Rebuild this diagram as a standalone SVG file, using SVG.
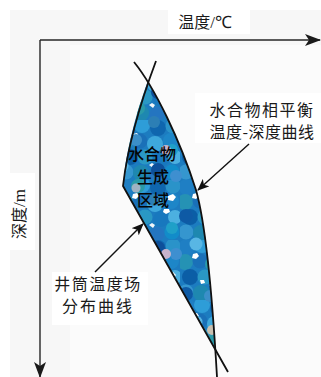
<svg xmlns="http://www.w3.org/2000/svg" width="321" height="377" viewBox="0 0 321 377">
  <style>
    .axis { stroke: #262626; stroke-width: 1.4; fill: none; }
    .curve { stroke: #111; stroke-width: 1.8; fill: none; stroke-linejoin: round; }
    .lead { stroke: #111; stroke-width: 1.4; fill: none; }
    .cn { font-family: "Noto Sans CJK SC", "Noto Sans", sans-serif; fill: #1a1a1a; }
    .lbl { font-size: 16px; text-anchor: middle; }
    .zone { font-size: 16px; text-anchor: middle; fill: #050505; font-weight: 500; }
  </style>
  <defs>
    <marker id="axhead" viewBox="0 0 16 12" refX="15" refY="6" markerWidth="16" markerHeight="12" markerUnits="userSpaceOnUse" orient="auto">
      <path d="M0,0 L16,6 L0,12 L4,6 Z" fill="#1a1a1a"/>
    </marker>
    <marker id="ptr" viewBox="0 0 12 10" refX="11" refY="5" markerWidth="12" markerHeight="10" markerUnits="userSpaceOnUse" orient="auto">
      <path d="M0,0 L12,5 L0,10 L3,5 Z" fill="#111"/>
    </marker>
    <!-- mosaic of blue cells -->
    <pattern id="cellsA" width="60" height="60" patternUnits="userSpaceOnUse">
      <rect width="60" height="60" fill="#1c7cc0"/>
      <circle cx="7" cy="7" r="8" fill="#1f7fc4"/>
      <circle cx="22" cy="5" r="8" fill="#2e9dd8"/>
      <circle cx="38" cy="8" r="8" fill="#0f66ae"/>
      <circle cx="53" cy="6" r="7.5" fill="#2a93c9"/>
      <circle cx="5" cy="22" r="8" fill="#2592b4"/>
      <circle cx="20" cy="21" r="7.5" fill="#1a70b8"/>
      <circle cx="35" cy="24" r="8" fill="#3ea8dc"/>
      <circle cx="51" cy="21" r="8" fill="#1d86c8"/>
      <circle cx="10" cy="37" r="8" fill="#0b5ea6"/>
      <circle cx="25" cy="37" r="7.5" fill="#2a98c4"/>
      <circle cx="41" cy="39" r="8" fill="#1878be"/>
      <circle cx="55" cy="37" r="7" fill="#4cb0e0"/>
      <circle cx="6" cy="52" r="7.5" fill="#3596cf"/>
      <circle cx="21" cy="53" r="8" fill="#1e88b0"/>
      <circle cx="37" cy="54" r="7.5" fill="#2475c0"/>
      <circle cx="52" cy="52" r="7.5" fill="#128cc9"/>
      <path d="M13,14 l4,-1 l2,3 l-3,3 l-4,-1 Z" fill="#ffffff"/>
      <path d="M44,29 l5,0 l1,3 l-4,2 l-3,-2 Z" fill="#ffffff"/>
      <path d="M29,45 l3,-2 l3,2 l-2,3 Z" fill="#f2f6fa"/>
    </pattern>
    <pattern id="cellsB" width="74" height="78" patternUnits="userSpaceOnUse">
      <circle cx="10" cy="14" r="7" fill="#0d4f9a"/>
      <circle cx="48" cy="10" r="6.5" fill="#58b6e4"/>
      <circle cx="64" cy="30" r="7" fill="#2a9aa8"/>
      <circle cx="38" cy="60" r="7" fill="#0e5aa5"/>
      <circle cx="62" cy="62" r="6" fill="#3b8fc9"/>
      <circle cx="28" cy="20" r="6" fill="#3e8fd0"/>
      <circle cx="6" cy="44" r="6" fill="#2c7fb5"/>
      <circle cx="24" cy="72" r="6" fill="#1fa0c8"/>
      <path d="M20,40 l5,-2 l3,3 l-3,4 l-5,-1 Z" fill="#ffffff"/>
      <path d="M52,46 l4,0 l1,3 l-4,1 Z" fill="#ffffff"/>
    </pattern>
    <pattern id="cellsC" width="96" height="104" patternUnits="userSpaceOnUse">
      <circle cx="20" cy="18" r="5" fill="#c9c0b0"/>
      <circle cx="70" cy="46" r="5" fill="#c7b3cc"/>
      <circle cx="40" cy="84" r="4.5" fill="#9fb3c3"/>
    </pattern>
    <clipPath id="zoneClip">
      <path d="M147.6,81.6 Q126.5,140 123,186 L215.2,347.9 C210.6,275.5 204.9,221 196,190 C183.4,150.5 165.1,109.8 147.6,81.6 Z"/>
    </clipPath>
  </defs>

  <!-- page background -->
  <rect width="321" height="377" fill="#ffffff"/>
  <rect x="10" y="10" width="311" height="367" fill="#f7f7f7"/>
  <rect x="70" y="45" width="251" height="332" fill="#fbfbfb"/>
  <rect x="168" y="0" width="82" height="34" fill="#ffffff"/>
  <rect x="10" y="173" width="25" height="77" fill="#ffffff"/>
  <rect x="195" y="93" width="126" height="50" fill="#ffffff"/>
  <rect x="52" y="272" width="96" height="53" fill="#ffffff"/>

  <!-- axes -->
  <g id="axes">
    <path class="axis" d="M40,40 L320,40" marker-end="url(#axhead)"/>
    <path class="axis" d="M40,40 L40,377" marker-end="url(#axhead)"/>
    <text class="cn" x="205" y="28" font-size="16" text-anchor="middle">温度<tspan font-family="'Liberation Serif', serif" font-size="17">/℃</tspan></text>
    <text class="cn" transform="translate(25,214) rotate(-90)" font-size="16" text-anchor="middle">深度<tspan font-family="'Liberation Serif', serif" font-size="17">/m</tspan></text>
  </g>

  <!-- hydrate formation zone -->
  <g id="zone">
    <g clip-path="url(#zoneClip)">
      <rect x="110" y="70" width="120" height="290" fill="url(#cellsA)"/>
      <rect x="110" y="70" width="120" height="290" fill="url(#cellsB)"/>
      <rect x="110" y="70" width="120" height="290" fill="url(#cellsC)"/>
    </g>
    <text class="cn zone" x="152" y="160">水合物</text>
    <text class="cn zone" x="153" y="183">生成</text>
    <text class="cn zone" x="153" y="206">区域</text>
  </g>

  <!-- curves and leaders -->
  <g id="connectors">
    <path id="wellbore-curve" class="curve" d="M156,61 Q129,133 123,186 L228,372"/>
    <path id="equilibrium-curve" class="curve" d="M134,62 C155,88 180,140 196,190 C206,225 212,290 217,377"/>
    <path class="lead" d="M249,144 L198,190" marker-end="url(#ptr)"/>
    <path class="lead" d="M95,272 L143,224" marker-end="url(#ptr)"/>
  </g>

  <g id="label-equilibrium">
    <text class="cn lbl" x="262" y="116" letter-spacing="1.5">水合物相平衡</text>
    <text class="cn lbl" x="262" y="138" letter-spacing="0.5">温度-深度曲线</text>
  </g>
  <g id="label-wellbore">
    <text class="cn lbl" x="98" y="290" letter-spacing="1.5">井筒温度场</text>
    <text class="cn lbl" x="98" y="312" letter-spacing="2">分布曲线</text>
  </g>
</svg>
